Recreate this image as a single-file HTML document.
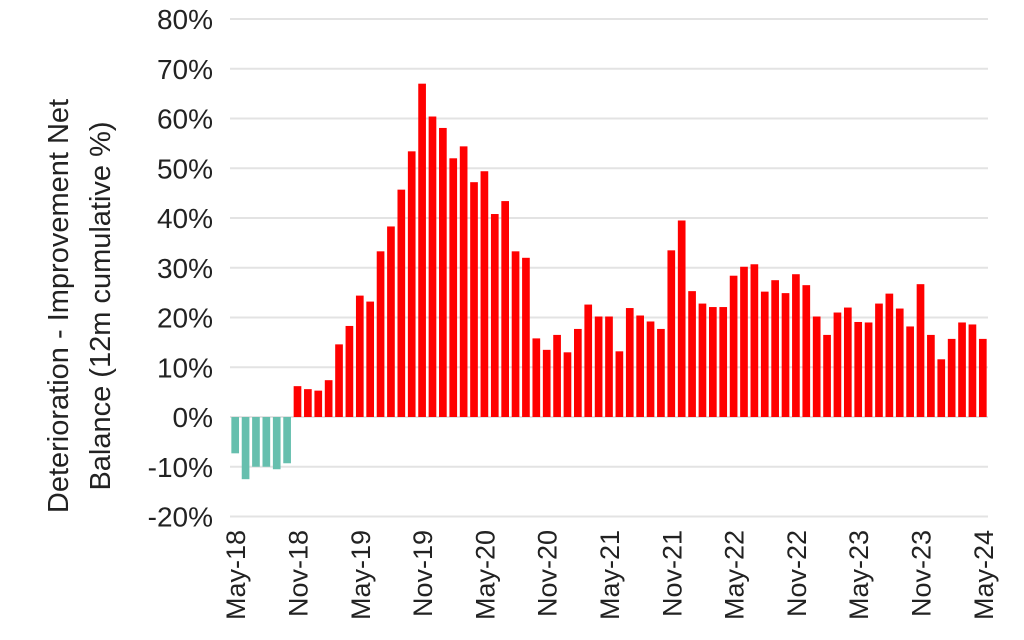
<!DOCTYPE html>
<html><head><meta charset="utf-8"><style>
body{margin:0;background:#fff;}
svg{display:block;font-family:"Liberation Sans",Arial,sans-serif;}
</style></head><body>
<svg id="chart" width="1024" height="640" viewBox="0 0 1024 640">
<g id="grid"></g><g id="bars"></g><g id="ylabels"></g><g id="xlabels"></g>
<text transform="translate(68,306) rotate(-90)" text-anchor="middle" font-size="29" fill="#222">Deterioration - Improvement Net</text>
<text transform="translate(110,306) rotate(-90)" text-anchor="middle" font-size="29" fill="#222">Balance (12m cumulative %)</text>
</svg>
<script>
const startYear = 2018, startMonth = 4; // May 2018
const values = [-7.3,-12.5,-10,-10,-10.5,-9.3,
6.2,5.6,5.3,7.4,14.6,18.3,24.4,23.2,33.3,38.3,45.7,53.4,67,
60.4,58.1,52,54.4,47.2,49.4,40.8,43.4,33.3,32,
15.8,13.5,16.5,13,17.7,22.6,20.2,20.2,13.2,21.9,20.4,19.2,17.7,
33.5,39.5,25.3,22.8,22.1,22.1,28.4,30.2,30.7,25.2,27.5,24.9,28.7,26.5,20.2,16.5,21,22,19.1,19,22.8,24.8,21.8,18.2,26.7,16.5,11.6,15.7,19,18.6,15.7];
const yTicks = [-20,-10,0,10,20,30,40,50,60,70,80];
const monthNames = ["Jan","Feb","Mar","Apr","May","Jun","Jul","Aug","Sep","Oct","Nov","Dec"];
const NS="http://www.w3.org/2000/svg";
const x0=230, x1=988, step=(x1-x0)/values.length;
const y=v=>417-v*4.975;
const xc=i=>x0+step*(i+0.5);
const mk=(t,a,p)=>{const e=document.createElementNS(NS,t);for(const k in a)e.setAttribute(k,a[k]);document.getElementById(p).appendChild(e);return e;};
yTicks.forEach(t=>{
  const l=mk('line',{x1:x0,x2:x1,y1:y(t),y2:y(t),stroke:'#e3e3e3','stroke-width':2},'grid');
  
  
  const tx=mk('text',{x:213,y:y(t)+10,'text-anchor':'end','font-size':28,fill:'#222'},'ylabels');
  tx.textContent=t+'%';
  
  
});
values.forEach((v,i)=>{
  const w=step*0.74;
  const r=mk('rect',{x:xc(i)-w/2,y:Math.min(y(v),y(0)),width:w,height:Math.abs(y(v)-y(0)),fill:v<0?'#66bfae':'#ff0000'},'bars');
  
  
  if(i%6===0){
    const m=(startMonth+i)%12, yr=startYear+Math.floor((startMonth+i)/12);
    const tx=mk('text',{transform:`translate(${xc(i)+10},530) rotate(-90)`,'text-anchor':'end','font-size':27,fill:'#222'},'xlabels');
    tx.textContent=monthNames[m]+'-'+String(yr).slice(2);
    
    
  }
});
</script>
</body></html>
